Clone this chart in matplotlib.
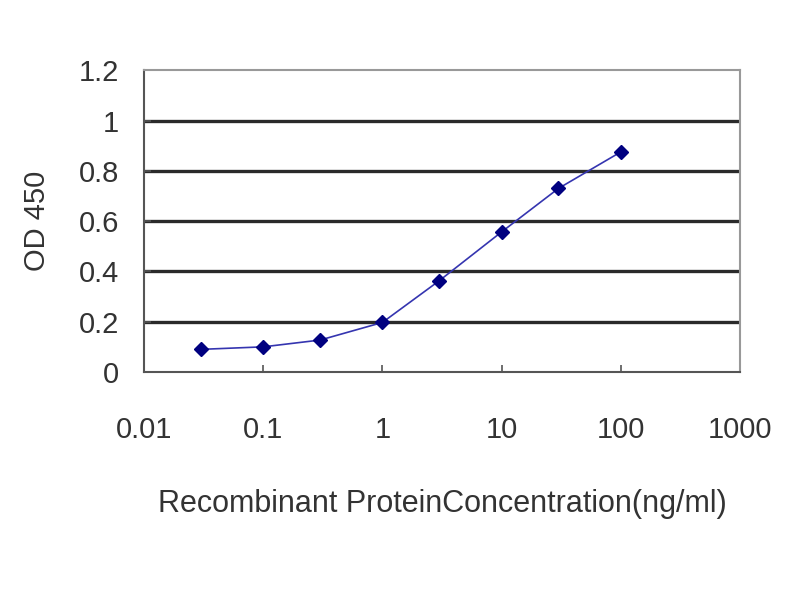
import matplotlib.pyplot as plt
from matplotlib.ticker import FixedLocator, FixedFormatter, NullLocator

# 読み取った値
conc = [0.03, 0.1, 0.3, 1, 3, 10, 30, 100]
od450 = [0.09, 0.10, 0.127, 0.197, 0.363, 0.557, 0.73, 0.875]

x_ticks = [0.01, 0.1, 1, 10, 100, 1000]
x_labels = ['0.01', '0.1', '1', '10', '100', '1000']
y_ticks = [0, 0.2, 0.4, 0.6, 0.8, 1, 1.2]
y_labels = ['0', '0.2', '0.4', '0.6', '0.8', '1', '1.2']

plt.rcParams['font.family'] = ['Liberation Sans', 'DejaVu Sans']

fig = plt.figure(figsize=(8, 6), dpi=100)
ax = fig.add_axes([0.18, 0.38, 0.745, 0.503])

# 横グリッド線
for y in y_ticks[1:-1]:
    ax.axhline(y, color='#2a2a2a', linewidth=2.4, zorder=1)

ax.plot(conc, od450, color='#3535b0', linewidth=1.2, marker='D',
        markersize=7.5, markerfacecolor='#000080', markeredgecolor='#000080', zorder=3)

ax.set_xscale('log')
ax.set_xlim(0.01, 1000)
ax.set_ylim(0, 1.2)
ax.xaxis.set_major_locator(FixedLocator(x_ticks))
ax.xaxis.set_major_formatter(FixedFormatter(x_labels))
ax.xaxis.set_minor_locator(NullLocator())
ax.yaxis.set_major_locator(FixedLocator(y_ticks))
ax.yaxis.set_major_formatter(FixedFormatter(y_labels))

ax.tick_params(axis='both', direction='in', length=5, width=1.2, color='#555555',
               labelsize=21, labelcolor='#333333')
ax.tick_params(axis='x', pad=32)
ax.tick_params(axis='y', pad=18)

for side in ['left', 'bottom']:
    ax.spines[side].set_color('#555555')
    ax.spines[side].set_linewidth(1.5)
for side in ['top', 'right']:
    ax.spines[side].set_color('#999999')
    ax.spines[side].set_linewidth(1.5)

ax.set_ylabel('OD 450', fontsize=21, color='#333333', labelpad=20)
ax.set_xlabel('Recombinant ProteinConcentration(ng/ml)', fontsize=22,
              color='#333333', labelpad=32)

plt.savefig('out.png')
